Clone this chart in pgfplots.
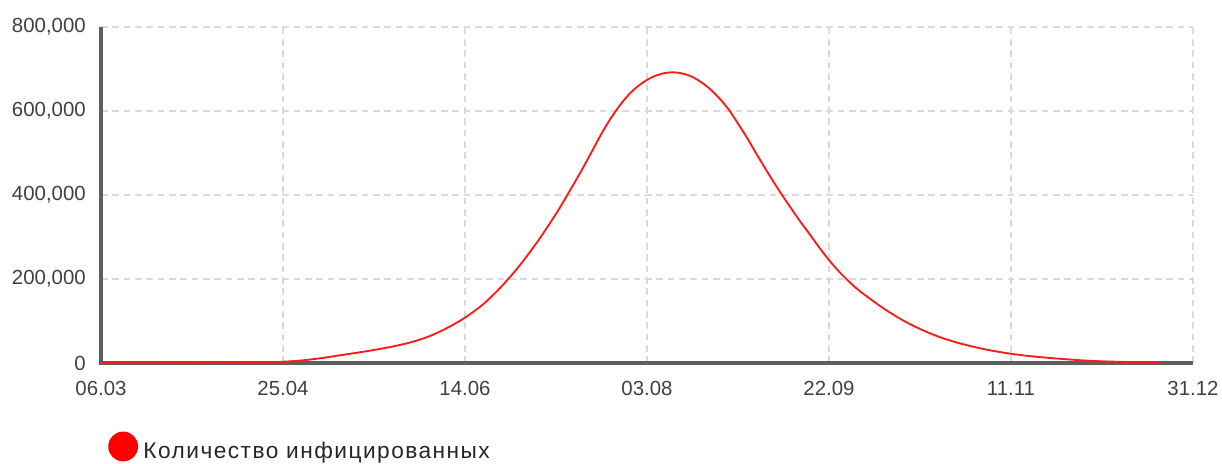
\documentclass[border=0pt]{standalone}
\usepackage{pgfplots}
\pgfplotsset{compat=1.18}
\usepackage{fontspec}
\setmainfont{Liberation Sans}
\definecolor{gridc}{HTML}{DADADA}
\definecolor{axc}{HTML}{5E5E5E}
\definecolor{tickc}{HTML}{404040}
\definecolor{curve}{HTML}{FF1A1A}
\begin{document}
\begin{tikzpicture}
\useasboundingbox (0,0) rectangle (916.5pt,348pt);
\begin{axis}[
  at={(75.75pt,75.75pt)}, anchor=south west,
  scale only axis, width=819pt, height=252pt,
  xmin=0, xmax=300, ymin=0, ymax=800000,
  clip=false,
  axis x line*=bottom, axis y line*=left,
  axis line style={draw=none, -},
  xtick={0,50,100,150,200,250,300},
  xticklabels={06.03,25.04,14.06,03.08,22.09,11.11,31.12},
  ytick={0,200000,400000,600000,800000},
  yticklabels={0,{200,000},{400,000},{600,000},{800,000}},
  scaled y ticks=false,
  grid=major,
  major grid style={gridc, line width=1.1pt, dash pattern=on 5pt off 3.5pt},
  major tick length=0pt,
  tick label style={font=\fontsize{15.3}{18}\selectfont, text=tickc},
  yticklabel style={inner sep=0pt, xshift=-11.25pt},
  xticklabel style={inner sep=0pt, yshift=-13.5pt},
  legend style={at={(0.0064,-0.2545)}, anchor=west, draw=none, fill=none,
    inner sep=0pt, font=\fontsize{17}{19}\addfontfeature{LetterSpace=6.5}\selectfont, text=black!85,
    nodes={inner sep=4pt}},
  legend image code/.code={\fill[red] (10.5pt,3.3pt) circle[radius=10.5pt];},
]
\draw[axc, line width=2.3pt] (rel axis cs:0,1) -- (rel axis cs:0,0) -- (rel axis cs:1,0);
\addplot[curve, line width=1.4pt, smooth] coordinates {
(0,0) (5,0) (10,0) (15,100) (20,200) (25,300) (30,500) (35,700) (40,1000)
(45,1600) (50,3000) (55,6000) (60,11000) (65,17500) (70,24000) (75,31000)
(80,39000) (85,49000) (90,63000) (95,83000) (100,108000) (105,140000)
(110,182000) (115,232000) (120,290000) (125,355000) (127.5,391000)
(130,428000) (132.5,466000) (135,506000) (137.5,546000) (140,582000)
(142.5,613000) (145,639000) (147.5,659000) (150,674000) (152.5,684500)
(155,690500) (157.5,692000) (160,688700) (162.5,681000) (165,668000)
(167.5,651000) (170,629000) (172.5,603000) (175,570000) (177.5,536000)
(180,499000) (182.5,463000) (185,428000) (187.5,395000) (190,363000)
(192.5,332000) (195,303000) (197.5,273000) (200,245000) (202.5,220000)
(205,198000) (207.5,178000) (210,161000) (215,130000) (220,103000) (225,81000)
(230,63000) (235,49000) (240,38000) (245,29000) (250,22000)
(255,16500) (260,12500) (265,9000) (270,6000) (275,4000) (280,2800)
(285,1800) (291,1000)
};
\addlegendentry{Количество инфицированных}
\end{axis}
\end{tikzpicture}
\end{document}
